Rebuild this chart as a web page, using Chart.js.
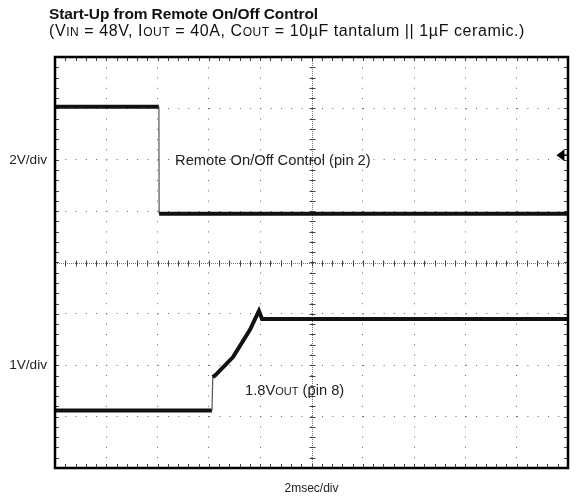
<!DOCTYPE html>
<html><head><meta charset="utf-8">
<script src="https://cdn.jsdelivr.net/npm/chart.js@4.4.1/dist/chart.umd.min.js"></script>
<style>
html,body{margin:0;padding:0;background:#fff;}
#wrap{position:relative;width:577px;height:497px;font-family:"Liberation Sans",Arial,Helvetica,sans-serif;color:#111;overflow:hidden;}
#c{position:absolute;left:0;top:0;}
.t1{position:absolute;left:49px;top:5px;font-size:15.5px;font-weight:bold;white-space:nowrap;line-height:17px;}
.t2{position:absolute;left:49px;top:22px;font-size:16px;white-space:nowrap;line-height:17px;}
.sc{font-size:12px;}
</style></head><body>
<div id="wrap">
<canvas id="c" width="577" height="497"></canvas>
<div class="t1" id="t1">Start-Up from Remote On/Off Control</div>
<div class="t2" id="t2">(V<span class="sc">IN</span> = 48V, I<span class="sc">OUT</span> = 40A, C<span class="sc">OUT</span> = 10µF tantalum || 1µF ceramic.)</div>
</div>
<script>
// ---- data (x in ms, y in screen divisions from bottom, 0..8) ----
const ch1Time = [0, 4.05, 4.06, 20];
const ch1Div  = [7.03, 7.03, 4.95, 4.95];
const ch2Time = [0, 6.12, 6.15, 6.24, 6.94, 7.60, 7.95, 8.07, 20];
const ch2Div  = [1.12, 1.12, 1.77, 1.80, 2.16, 2.69, 3.06, 2.90, 2.90];
const yLabelDivs  = [6, 2];
const yLabelTexts = ["2V/div", "1V/div"];
const xTitle = "2msec/div";
const ch1Label = "Remote On/Off Control (pin 2)";
const ch2Label = ["1.8V", "OUT", " (pin 8)"];
const markerPos = [19.55, 6.09];

// fit header text widths to the reference
function fitWidth(id, target){
  const el = document.getElementById(id);
  const n = el.textContent.length;
  const w = el.getBoundingClientRect().width;
  el.style.letterSpacing = ((target - w) / n).toFixed(3) + 'px';
}
fitWidth('t1', 269);
fitWidth('t2', 476);

function pts(xs, ys){ return xs.map((x,i)=>({x:x, y:ys[i]})); }
const FONT = '"Liberation Sans", Arial, Helvetica, sans-serif';

const segW = ctx => (Math.abs(ctx.p1.parsed.x - ctx.p0.parsed.x) < 0.05 ? 1.2 : 4);
const segC = ctx => (Math.abs(ctx.p1.parsed.x - ctx.p0.parsed.x) < 0.05 ? '#555' : '#111');

const scopePlugin = {
  id: 'scope',
  beforeDatasetsDraw(chart){
    const {ctx, chartArea:a, scales:{x, y}} = chart;
    ctx.save();
    ctx.strokeStyle = '#777'; ctx.lineWidth = 1; ctx.setLineDash([1,1]);
    const cx = Math.round(x.getPixelForValue(10)) + 0.5, cy = Math.round(y.getPixelForValue(4)) + 0.5;
    ctx.beginPath(); ctx.moveTo(a.left, cy); ctx.lineTo(a.right, cy); ctx.moveTo(cx, a.top); ctx.lineTo(cx, a.bottom); ctx.stroke();
    ctx.setLineDash([]);
    ctx.strokeStyle = '#444';
    ctx.beginPath();
    for (let v = 0; v <= 20.001; v += 0.4) {
      const px = Math.round(x.getPixelForValue(v)) + 0.5;
      ctx.moveTo(px, cy - 3); ctx.lineTo(px, cy + 3);
      ctx.moveTo(px, a.top); ctx.lineTo(px, a.top + 4);
      ctx.moveTo(px, a.bottom - 4); ctx.lineTo(px, a.bottom);
    }
    for (let v = 0; v <= 8.001; v += 0.2) {
      const py = Math.round(y.getPixelForValue(v)) + 0.5;
      ctx.moveTo(cx - 3, py); ctx.lineTo(cx + 3, py);
      ctx.moveTo(a.left, py); ctx.lineTo(a.left + 4, py);
      ctx.moveTo(a.right - 4, py); ctx.lineTo(a.right, py);
    }
    ctx.stroke();
    ctx.restore();
  },
  afterDraw(chart){
    const {ctx, chartArea:a, scales:{x, y}} = chart;
    ctx.save();
    ctx.strokeStyle = '#000'; ctx.lineWidth = 2.5;
    ctx.strokeRect(a.left, a.top, a.right - a.left, a.bottom - a.top);
    const mx = x.getPixelForValue(markerPos[0]), my = y.getPixelForValue(markerPos[1]);
    ctx.fillStyle = '#000';
    ctx.beginPath(); ctx.moveTo(mx, my); ctx.lineTo(mx + 8, my - 6); ctx.lineTo(mx + 8, my + 6); ctx.closePath(); ctx.fill();
    ctx.lineWidth = 1.5; ctx.beginPath(); ctx.moveTo(mx + 4, my); ctx.lineTo(a.right, my); ctx.stroke();
    ctx.fillStyle = '#222'; ctx.textBaseline = 'middle'; ctx.textAlign = 'left';
    ctx.font = '14.7px ' + FONT;
    ctx.fillText(ch1Label, x.getPixelForValue(4.68), y.getPixelForValue(5.98));
    let tx = x.getPixelForValue(7.41); const ty = y.getPixelForValue(1.5);
    ctx.fillText(ch2Label[0], tx, ty); tx += ctx.measureText(ch2Label[0]).width;
    ctx.font = '11px ' + FONT;
    ctx.fillText(ch2Label[1], tx, ty + 1); tx += ctx.measureText(ch2Label[1]).width;
    ctx.font = '14.7px ' + FONT;
    ctx.fillText(ch2Label[2], tx, ty);
    ctx.restore();
  }
};

new Chart(document.getElementById('c'), {
  type: 'line',
  data: {
    datasets: [
      { label: 'ch1', data: pts(ch1Time, ch1Div), borderColor: '#111', borderWidth: 4, pointRadius: 0,
        tension: 0, segment: { borderWidth: segW, borderColor: segC } },
      { label: 'ch2', data: pts(ch2Time, ch2Div), borderColor: '#111', borderWidth: 4, pointRadius: 0,
        tension: 0, segment: { borderWidth: segW, borderColor: segC } }
    ]
  },
  options: {
    responsive: false, animation: false, devicePixelRatio: 1,
    layout: { padding: { top: 57, right: 9, bottom: 0, left: 0 } },
    plugins: { legend: { display: false }, tooltip: { enabled: false }, title: { display: false } },
    scales: {
      x: {
        type: 'linear', min: 0, max: 20,
        ticks: { display: false, stepSize: 2 },
        grid: { color: '#666', lineWidth: 1, drawTicks: false },
        border: { display: false, dash: [1, 9.26] },
        title: { display: true, text: xTitle, color: '#222', font: { family: FONT, size: 12 }, padding: { top: 0, bottom: 1.5 } },
        afterFit: s => { s.height = 29; }
      },
      y: {
        type: 'linear', min: 0, max: 8,
        ticks: { stepSize: 1, padding: 8, color: '#222', font: { family: FONT, size: 13.6 },
          callback: v => { const i = yLabelDivs.indexOf(v); return i >= 0 ? yLabelTexts[i] : ''; } },
        grid: { color: '#666', lineWidth: 1, drawTicks: false },
        border: { display: false, dash: [1, 9.27] },
        afterFit: s => { s.width = 55; }
      }
    }
  },
  plugins: [scopePlugin]
});
</script>
</body></html>
